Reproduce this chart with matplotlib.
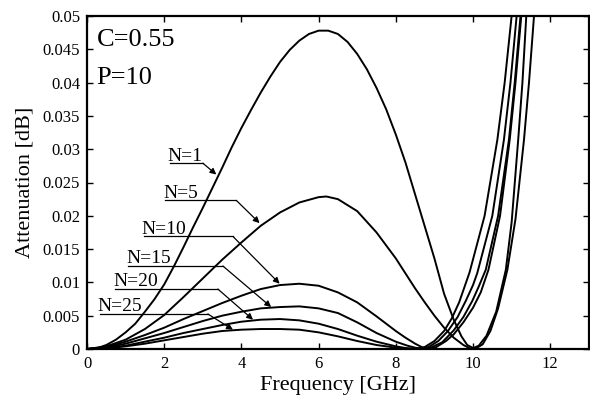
import matplotlib
matplotlib.use('Agg')
import matplotlib.pyplot as plt
from matplotlib.ticker import FuncFormatter, MultipleLocator

plt.rcParams['font.family'] = ['Liberation Serif', 'DejaVu Serif']

# curves: frequency [GHz], attenuation [dB]
freq_n1 = [0, 0.25, 0.5, 0.75, 1.0, 1.25, 1.5, 1.75, 2.0, 2.25, 2.5, 2.75,
           3.0, 3.25, 3.5, 3.75, 4.0, 4.25, 4.5, 4.75, 5.0, 5.25, 5.5, 5.75,
           6.0, 6.25, 6.5, 6.75, 7.0, 7.25, 7.5, 7.75, 8.0, 8.25, 8.5, 8.75,
           9.0, 9.25, 9.5, 9.7, 9.85, 10.05, 10.25, 10.45, 10.65, 10.89,
           11.1, 11.32, 11.45, 11.58, 11.65]
att_n1 = [0, 0.0001, 0.0006, 0.0014, 0.0025, 0.0038, 0.0056, 0.0075, 0.0097,
          0.0124, 0.0153, 0.0183, 0.0212, 0.0242, 0.0272, 0.0303, 0.0332,
          0.0359, 0.0385, 0.0409, 0.0431, 0.0449, 0.0463, 0.0473, 0.0478,
          0.0478, 0.0473, 0.0461, 0.0443, 0.0420, 0.0392, 0.0360, 0.0322,
          0.0280, 0.0232, 0.0184, 0.0136, 0.0083, 0.0044, 0.0019, 0.0006, 0,
          0.0007, 0.0027, 0.0061, 0.0119, 0.0195, 0.0314, 0.040, 0.050, 0.056]

freq_n5 = [0, 0.5, 1.0, 1.5, 2.0, 2.5, 3.0, 3.5, 4.0, 4.5, 5.0, 5.5, 6.0,
           6.2, 6.5, 7.0, 7.5, 8.0, 8.5, 8.75, 9.0, 9.25, 9.5, 9.75, 9.95,
           10.15, 10.35, 10.6, 10.85, 11.0, 11.17, 11.28, 11.38, 11.45]
att_n5 = [0, 0.0004, 0.0014, 0.0030, 0.0051, 0.0078, 0.0106, 0.0134, 0.0160,
          0.0185, 0.0205, 0.0220, 0.0228, 0.0229, 0.0225, 0.0207, 0.0175,
          0.0136, 0.0091, 0.0070, 0.0050, 0.0032, 0.0017, 0.0006, 0, 0.0005,
          0.0020, 0.0056, 0.0119, 0.019, 0.0314, 0.040, 0.050, 0.056]

freq_n10 = [0, 0.5, 1.0, 1.5, 2.0, 2.5, 3.0, 3.5, 4.0, 4.5, 5.0, 5.5, 6.0,
            6.5, 7.0, 7.5, 8.0, 8.25, 8.5, 8.7, 8.85, 9.05, 9.3, 9.5, 9.75,
            10.0, 10.2, 10.4, 10.7, 10.95, 11.1, 11.25, 11.32]
att_n10 = [0, 0.0003, 0.0011, 0.0021, 0.0032, 0.0045, 0.0057, 0.0069, 0.0080,
           0.0090, 0.0096, 0.0098, 0.0095, 0.0085, 0.0070, 0.0049, 0.0027,
           0.0017, 0.0008, 0.0002, 0, 0.0003, 0.0012, 0.0022, 0.0040, 0.0062,
           0.0085, 0.0119, 0.020, 0.0314, 0.040, 0.050, 0.056]

freq_n15 = [0, 0.5, 1.0, 1.5, 2.0, 2.5, 3.0, 3.5, 4.0, 4.5, 5.0, 5.5, 6.0,
            6.5, 7.0, 7.5, 8.0, 8.3, 8.5, 8.7, 8.9, 9.2, 9.5, 9.75, 9.98,
            10.15, 10.33, 10.65, 10.93, 11.08, 11.23, 11.3]
att_n15 = [0, 0.0002, 0.0008, 0.0016, 0.0024, 0.0033, 0.0042, 0.0050, 0.0056,
           0.0061, 0.0063, 0.0064, 0.0061, 0.0054, 0.0040, 0.0024, 0.0011,
           0.0005, 0.0002, 0, 0.0002, 0.0010, 0.0028, 0.0048, 0.0072, 0.0094,
           0.0119, 0.020, 0.0314, 0.040, 0.050, 0.056]

freq_n20 = [0, 0.5, 1.0, 1.5, 2.0, 2.5, 3.0, 3.5, 4.0, 4.5, 5.0, 5.5, 6.0,
            6.5, 7.0, 7.5, 8.0, 8.3, 8.6, 8.85, 9.1, 9.35, 9.6, 9.81, 10.0,
            10.11, 10.5, 10.8, 10.97, 11.13, 11.2]
att_n20 = [0, 0.0001, 0.0005, 0.0011, 0.0017, 0.0024, 0.0030, 0.0036, 0.0041,
           0.0044, 0.0045, 0.0043, 0.0038, 0.0030, 0.0020, 0.0011, 0.0004,
           0.0001, 0, 0.0003, 0.0012, 0.0027, 0.0048, 0.0072, 0.0096, 0.0114,
           0.020, 0.0314, 0.040, 0.050, 0.056]

freq_n25 = [0, 0.5, 1.0, 1.5, 2.0, 2.5, 3.0, 3.5, 4.0, 4.5, 5.0, 5.5, 6.0,
            6.5, 7.0, 7.5, 8.0, 8.5, 8.75, 9.0, 9.25, 9.45, 9.64, 9.91, 10.3,
            10.63, 10.82, 11.0, 11.07]
att_n25 = [0, 0.0001, 0.0004, 0.0008, 0.0013, 0.0018, 0.0023, 0.0027, 0.0029,
           0.0030, 0.0030, 0.0029, 0.0025, 0.0019, 0.0012, 0.0006, 0.0002, 0,
           0.0003, 0.0012, 0.0027, 0.0046, 0.0070, 0.0115, 0.020, 0.0314,
           0.040, 0.050, 0.056]

curves = [(freq_n1, att_n1), (freq_n5, att_n5), (freq_n10, att_n10),
          (freq_n15, att_n15), (freq_n20, att_n20), (freq_n25, att_n25)]

n_labels = ['N=1', 'N=5', 'N=10', 'N=15', 'N=20', 'N=25']
# text left x, underline y, underline end x, arrow tip (x, y)
label_x = [2.09, 1.97, 1.42, 1.02, 0.68, 0.28]
line_y = [0.0279, 0.0223, 0.0169, 0.01246, 0.0090, 0.00526]
line_end = [3.0, 3.87, 3.78, 3.52, 3.39, 3.13]
tips = [(3.35, 0.0262), (4.47, 0.0189), (4.99, 0.0098), (4.77, 0.0063),
        (4.30, 0.0044), (3.78, 0.0029)]

fig = plt.figure(figsize=(5.9, 4.0), dpi=100)
ax = fig.add_axes([0.1475, 0.1275, 0.8505, 0.8325])

for f, a in curves:
    ax.plot(f, a, color='black', lw=1.4, solid_joinstyle='round')

for lab, lx, ly, le, tip in zip(n_labels, label_x, line_y, line_end, tips):
    ax.text(lx, ly + 0.0004, lab, fontsize=14, ha='left', va='baseline')
    ax.plot([lx + 0.05, le], [ly, ly], color='black', lw=0.9)
    ax.annotate('', xy=tip, xytext=(le, ly),
                arrowprops=dict(arrowstyle='-|>', color='black', lw=0.9,
                                mutation_scale=9, shrinkA=0, shrinkB=0))

ax.text(0.25, 0.0481, 'C=0.55', fontsize=19, va='top')
ax.text(0.25, 0.0424, 'P=10', fontsize=19, va='top')

ax.set_xlim(0, 13)
ax.set_ylim(0, 0.05)
ax.xaxis.set_major_locator(MultipleLocator(2))
ax.yaxis.set_major_locator(MultipleLocator(0.005))
ax.yaxis.set_major_formatter(FuncFormatter(lambda v, p: '%g' % round(v, 4)))
ax.tick_params(direction='in', length=4, width=1, top=True, right=True,
               labelsize=12, pad=5)
for s in ax.spines.values():
    s.set_linewidth(1.6)

ax.set_xlabel('Frequency [GHz]', fontsize=16, labelpad=3)
ax.set_ylabel('Attenuation [dB]', fontsize=16, labelpad=6)

fig.savefig('out.png', dpi=100)
